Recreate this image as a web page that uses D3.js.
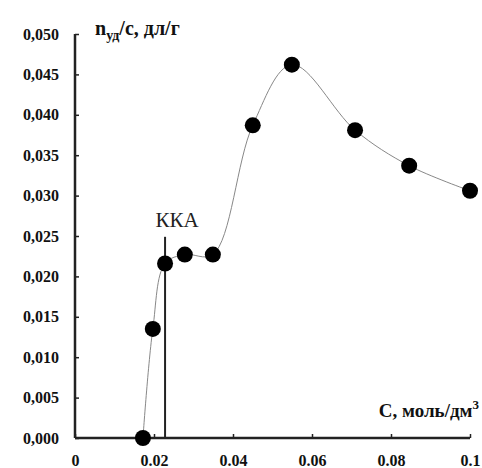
<!DOCTYPE html>
<html>
<head>
<meta charset="utf-8">
<script src="https://cdn.jsdelivr.net/npm/d3@7"></script>
<style>
  body { margin: 0; background: #fff; }
  svg text { font-family: "Liberation Serif", "DejaVu Serif", serif; }
</style>
</head>
<body>
<div id="chart"></div>
<script>
// concentration, mol/dm3
const conc = [0.0172, 0.0197, 0.0228, 0.0278, 0.0349, 0.045, 0.0549, 0.0709, 0.0846, 0.1];
// reduced viscosity, dl/g
const visc = [0.0, 0.0135, 0.0216, 0.0227, 0.0227, 0.0387, 0.0462, 0.0381, 0.0337, 0.0306];
const xTicks = [0, 0.02, 0.04, 0.06, 0.08, 0.1];
const yTicks = [0, 0.005, 0.01, 0.015, 0.02, 0.025, 0.03, 0.035, 0.04, 0.045, 0.05];
const cmc = 0.0228;

const width = 482, height = 468;

const x = d3.scaleLinear().domain([0, 0.1]).range([75, 470]);
const y = d3.scaleLinear().domain([0, 0.05]).range([438, 34]);

const svg = d3.select("#chart").append("svg")
	.attr("width", width)
	.attr("height", height);

// axes, ticks pointing inward
const xAxis = d3.axisTop(x)
	.tickValues(xTicks)
	.tickSize(4)
	.tickFormat(d => d === 0 ? "0" : d3.format(".2~f")(d));

const gx = svg.append("g")
	.attr("transform", `translate(0,${y(0)})`)
	.call(xAxis);
gx.select(".domain").attr("stroke", "#222").attr("stroke-width", 2.5).attr("d", `M${x(0)},0H${x(0.1)}`);
gx.selectAll(".tick line").attr("stroke", "#222").attr("stroke-width", 1.5);
gx.selectAll(".tick text")
	.attr("y", 28)
	.attr("dy", 0)
	.attr("font-size", 16)
	.attr("font-weight", "bold")
	.attr("fill", "#111");

const yAxis = d3.axisRight(y)
	.tickValues(yTicks)
	.tickSize(4)
	.tickFormat(d => d3.format(".3f")(d).replace(".", ","));

const gy = svg.append("g")
	.attr("transform", `translate(${x(0)},0)`)
	.call(yAxis);
gy.select(".domain").attr("stroke", "#222").attr("stroke-width", 2.5).attr("d", `M0,${y(0)}V${y(0.05)}`);
gy.selectAll(".tick line").attr("stroke", "#222").attr("stroke-width", 1.5);
gy.selectAll(".tick text")
	.attr("x", -16)
	.attr("text-anchor", "end")
	.attr("font-size", 16)
	.attr("font-weight", "bold")
	.attr("fill", "#111");

// CMC vertical line
svg.append("line")
	.attr("x1", x(cmc)).attr("x2", x(cmc))
	.attr("y1", y(0.0249)).attr("y2", y(0))
	.attr("stroke", "#222")
	.attr("stroke-width", 2);

svg.append("text")
	.attr("x", x(cmc) + 12)
	.attr("y", 227)
	.attr("text-anchor", "middle")
	.attr("font-size", 21)
	.attr("fill", "#222")
	.text("ККА");

// smooth curve
const pts = conc.map((c, i) => [c, visc[i]]);
const line = d3.line()
	.x(d => x(d[0]))
	.y(d => y(d[1]))
	.curve(d3.curveCatmullRom.alpha(0.5));

svg.append("path")
	.datum(pts)
	.attr("d", line)
	.attr("fill", "none")
	.attr("stroke", "#888")
	.attr("stroke-width", 1);

svg.selectAll("circle.pt")
	.data(pts)
	.enter()
	.append("circle")
	.attr("class", "pt")
	.attr("cx", d => x(d[0]))
	.attr("cy", d => y(d[1]))
	.attr("r", 8)
	.attr("fill", "#000");

// axis titles
const yt = svg.append("text")
	.attr("x", 95)
	.attr("y", 35)
	.attr("font-size", 20)
	.attr("font-weight", "bold")
	.attr("fill", "#111");
yt.append("tspan").text("n");
yt.append("tspan").attr("font-size", 14).attr("dy", 5).text("уд");
yt.append("tspan").attr("dy", -5).text("/с, дл/г");

const xt = svg.append("text")
	.attr("x", 479)
	.attr("y", 417)
	.attr("text-anchor", "end")
	.attr("font-size", 19)
	.attr("font-weight", "bold")
	.attr("fill", "#111");
xt.append("tspan").text("С, моль/дм");
xt.append("tspan").attr("font-size", 13).attr("dy", -8).text("3");
</script>
</body>
</html>
